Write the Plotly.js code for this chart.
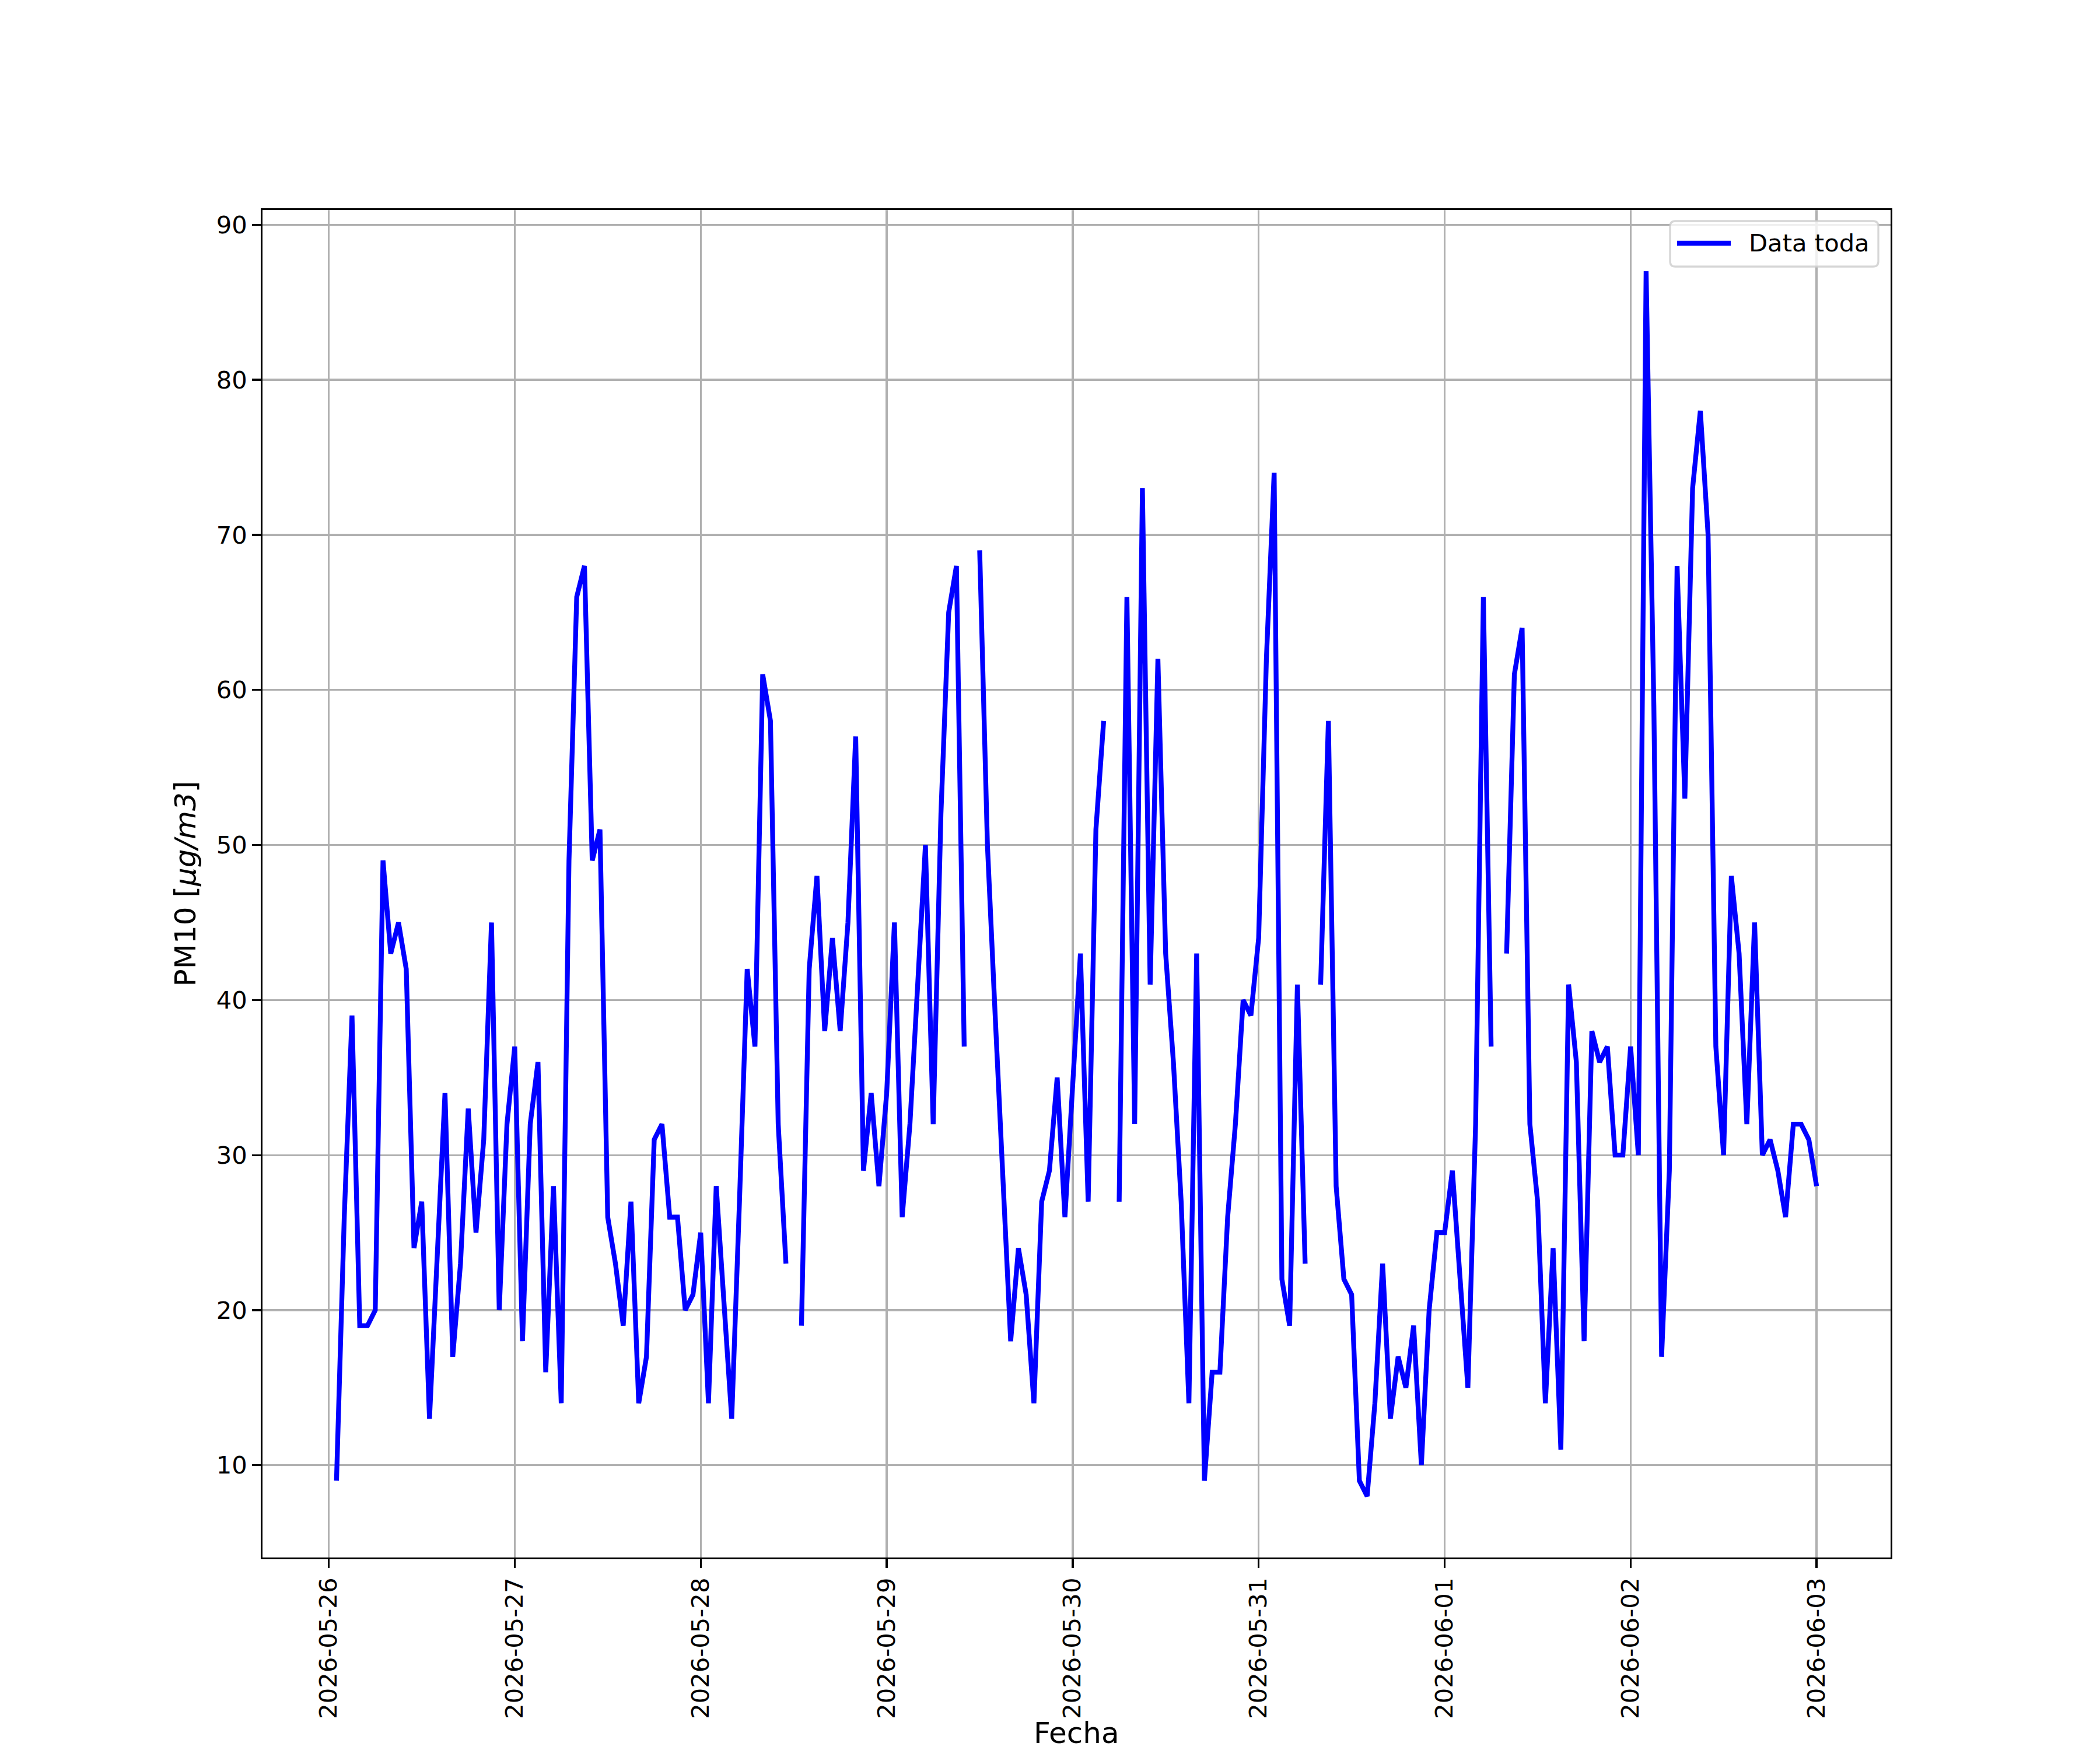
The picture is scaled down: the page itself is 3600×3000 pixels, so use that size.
<!DOCTYPE html>
<html>
<head>
<meta charset="utf-8">
<script src="https://cdn.plot.ly/plotly-3.0.1.min.js"></script>
<style>
  html, body { margin: 0; padding: 0; background: #ffffff; }
  #chart { width: 3600px; height: 3000px; }
</style>
</head>
<body>
<div id="chart"></div>
<script>
// Hourly PM10 readings, first reading at 2026-05-26 01:00, one value per hour
const startTime = "2026-05-26T01:00:00";
const pm10 = [
  // 2026-05-26 (01:00 - 23:00)
  9, 26, 39, 19, 19, 20, 49, 43, 45, 42, 24, 27, 13, 24, 34, 17, 23, 33, 25, 31, 45, 20, 32,
  // 2026-05-27
  37, 18, 32, 36, 16, 28, 14, 49, 66, 68, 49, 51, 26, 23, 19, 27, 14, 17, 31, 32, 26, 26, 20, 21,
  // 2026-05-28
  25, 14, 28, 20, 13, 27, 42, 37, 61, 58, 32, 23, null, 19, 42, 48, 38, 44, 38, 45, 57, 29, 34, 28,
  // 2026-05-29
  34, 45, 26, 32, 41, 50, 32, 52, 65, 68, 37, null, 69, 50, 39, 28, 18, 24, 21, 14, 27, 29, 35, 26,
  // 2026-05-30
  34, 43, 27, 51, 58, null, 27, 66, 32, 73, 41, 62, 43, 36, 27, 14, 43, 9, 16, 16, 26, 32, 40, 39,
  // 2026-05-31
  44, 62, 74, 22, 19, 41, 23, null, 41, 58, 28, 22, 21, 9, 8, 14, 23, 13, 17, 15, 19, 10, 20, 25,
  // 2026-06-01
  25, 29, 22, 15, 32, 66, 37, null, 43, 61, 64, 32, 27, 14, 24, 11, 41, 36, 18, 38, 36, 37, 30, 30,
  // 2026-06-02
  37, 30, 87, 59, 17, 29, 68, 53, 73, 78, 70, 37, 30, 48, 43, 32, 45, 30, 31, 29, 26, 32, 32, 31,
  // 2026-06-03
  28
];
const seriesName = "Data toda";
const xTitle = "Fecha";
const yTitle = "PM10 [<i>μg/m3</i>]";
const tickDates = ["2026-05-26", "2026-05-27", "2026-05-28", "2026-05-29", "2026-05-30",
                   "2026-05-31", "2026-06-01", "2026-06-02", "2026-06-03"];
const yTicks = [10, 20, 30, 40, 50, 60, 70, 80, 90];

// timestamps for each reading (hourly sampling)
function pad(n) { return (n < 10 ? "0" : "") + n; }
function fmt(d) {
  return d.getUTCFullYear() + "-" + pad(d.getUTCMonth() + 1) + "-" + pad(d.getUTCDate()) +
         " " + pad(d.getUTCHours()) + ":" + pad(d.getUTCMinutes()) + ":00";
}
const t0 = Date.parse(startTime + "Z");
const times = pm10.map((_, i) => fmt(new Date(t0 + i * 3600000)));

// matplotlib-like 5% margins
const tFirst = t0, tLast = t0 + (pm10.length - 1) * 3600000;
const tPad = (tLast - tFirst) * 0.05;
const vals = pm10.filter(v => v !== null);
const vMin = Math.min(...vals), vMax = Math.max(...vals);
const vPad = (vMax - vMin) * 0.05;

const FONT = "DejaVu Sans, Liberation Sans, sans-serif";
const LINE_COLOR = "#0000ff";
const LINE_W = 8.3;

// plot area in pixels (matplotlib default subplot params on a 3600x3000 figure)
const W = 3600, H = 3000;
const M = { l: 450, r: 359, t: 360, b: 330 };
const PW = W - M.l - M.r, PH = H - M.t - M.b;
const px = x => (x - M.l) / PW;
const py = y => 1 - (y - M.t) / PH;

// legend box (matplotlib-style, rounded, semi-transparent)
const lg = { x0: 2863, x1: 3220, y0: 379, y1: 457, r: 9 };
function roundedRectPath(b) {
  const p = (x, y) => px(x).toFixed(6) + "," + py(y).toFixed(6);
  return "M" + p(b.x0 + b.r, b.y0) +
         " L" + p(b.x1 - b.r, b.y0) + " Q" + p(b.x1, b.y0) + " " + p(b.x1, b.y0 + b.r) +
         " L" + p(b.x1, b.y1 - b.r) + " Q" + p(b.x1, b.y1) + " " + p(b.x1 - b.r, b.y1) +
         " L" + p(b.x0 + b.r, b.y1) + " Q" + p(b.x0, b.y1) + " " + p(b.x0, b.y1 - b.r) +
         " L" + p(b.x0, b.y0 + b.r) + " Q" + p(b.x0, b.y0) + " " + p(b.x0 + b.r, b.y0) + " Z";
}
const legendY = 417;

const trace = {
  x: times,
  y: pm10,
  type: "scatter",
  mode: "lines",
  name: seriesName,
  connectgaps: false,
  showlegend: false,
  line: { color: LINE_COLOR, width: LINE_W }
};

const axisCommon = {
  showline: true,
  mirror: true,
  linecolor: "#000000",
  linewidth: 3.3,
  showgrid: true,
  gridcolor: "#b0b0b0",
  gridwidth: 3.3,
  zeroline: false,
  ticks: "outside",
  ticklen: 14.6,
  tickwidth: 3.3,
  tickcolor: "#000000",
  tickfont: { family: FONT, size: 41.7, color: "#000000" },
  automargin: false
};

const layout = {
  width: W,
  height: H,
  autosize: false,
  paper_bgcolor: "#ffffff",
  plot_bgcolor: "#ffffff",
  margin: { l: M.l, r: M.r, t: M.t, b: M.b, pad: 0 },
  font: { family: FONT, color: "#000000" },
  showlegend: false,
  xaxis: Object.assign({}, axisCommon, {
    type: "date",
    range: [fmt(new Date(tFirst - tPad)), fmt(new Date(tLast + tPad))],
    tickmode: "array",
    tickvals: tickDates,
    ticktext: tickDates,
    tickangle: -90,
    title: { text: "" }
  }),
  yaxis: Object.assign({}, axisCommon, {
    range: [vMin - vPad, vMax + vPad],
    tickmode: "array",
    tickvals: yTicks,
    ticktext: yTicks.map(String),
    title: { text: yTitle, font: { family: FONT, size: 50, color: "#000000" }, standoff: 20 }
  }),
  shapes: [
    {
      type: "path", xref: "paper", yref: "paper", layer: "above",
      path: roundedRectPath(lg),
      fillcolor: "rgba(255,255,255,0.8)",
      line: { color: "rgba(204,204,204,0.8)", width: 3.3 }
    },
    {
      type: "line", xref: "paper", yref: "paper", layer: "above",
      x0: px(2875), x1: px(2967), y0: py(legendY), y1: py(legendY),
      line: { color: LINE_COLOR, width: LINE_W }
    }
  ],
  annotations: [
    {
      xref: "paper", yref: "paper", x: px(2996), y: py(legendY),
      xanchor: "left", yanchor: "middle", showarrow: false,
      text: seriesName,
      font: { family: FONT, size: 41.7, color: "#000000" }
    },
    {
      // x-axis title, near the bottom edge of the figure as in the original
      xref: "paper", yref: "paper", x: 0.5, y: py(2971),
      xanchor: "center", yanchor: "middle", showarrow: false,
      text: xTitle,
      font: { family: FONT, size: 50, color: "#000000" }
    }
  ]
};

Plotly.newPlot("chart", [trace], layout, { displayModeBar: false, staticPlot: true });
</script>
</body>
</html>
